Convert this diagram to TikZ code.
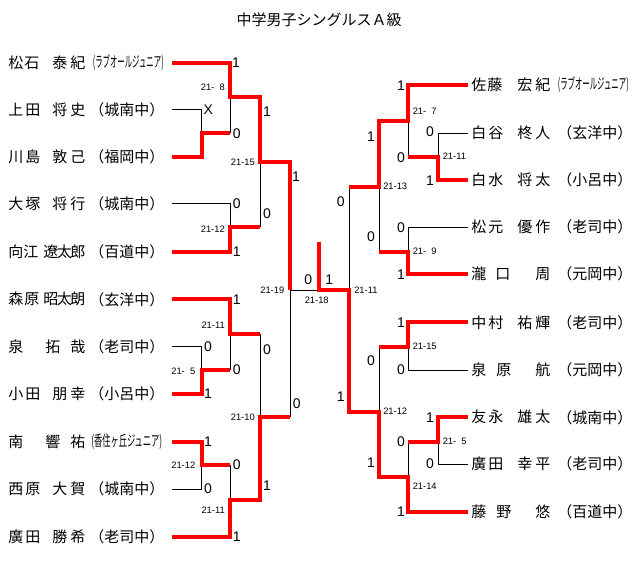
\documentclass[tikz,border=0pt]{standalone}
\usepackage{fontspec}
\usepackage{graphicx}
\setmainfont{Liberation Sans}
\newfontfamily\jp{Noto Sans CJK JP}
\newdimen\pxu \pxu=0.75pt
\tikzset{
  redln/.style={draw=red, line width=3pt, line join=miter},
  blkln/.style={draw=black, line width=0.75pt},
  pname/.style={anchor=west, inner sep=0pt, font=\jp\fontsize{11.25pt}{13pt}\selectfont},
  paff/.style={anchor=west, inner sep=0pt, font=\jp\fontsize{11.25pt}{13pt}\selectfont},
  resl/.style={inner sep=0pt, font=\fontsize{10.5pt}{12pt}\selectfont},
  scl/.style={inner sep=0pt, font=\fontsize{7pt}{8pt}\selectfont},
}
\newcommand\LN[1]{\hbox to 77\pxu{#1}}
\newcommand\RN[1]{\hbox to 79\pxu{#1}}
\newcommand\SM[1]{\resizebox{71\pxu}{\height}{#1}}
\newcommand\tk{\hskip-1.5\pxu}
\begin{document}
\begin{tikzpicture}[x=0.75pt,y=-0.75pt]
\useasboundingbox (0,0) rectangle (640,585);
\fill[white] (0,0) rectangle (640,585);
\node[pname] (title) at (319,20) [anchor=center] {中学男子シングルスＡ級};
% ---- left names
\node[pname] (n0) at (8,62.7) {\LN{松\hskip1\pxu 石\hfill 泰\hskip3\pxu 紀}};
\node[pname] (n1) at (8,110) {\LN{上\hskip2\pxu 田\hfill 将\hskip3\pxu 史}};
\node[pname] (n2) at (8,156.7) {\LN{川\hskip2\pxu 島\hfill 敦\hskip3\pxu 己}};
\node[pname] (n3) at (8,204) {\LN{大\hskip2\pxu 塚\hfill 将\hskip3\pxu 行}};
\node[pname] (n4) at (8,251.7) {\LN{向江\hfill 遼\tk 太\tk 郎}};
\node[pname] (n5) at (8,299.3) {\LN{森\hskip1\pxu 原\hfill 昭\tk 太\tk 朗}};
\node[pname] (n6) at (8,346.7) {\LN{泉\hfill 拓\hskip10\pxu 哉}};
\node[pname] (n7) at (8,393.7) {\LN{小\hskip2\pxu 田\hfill 朋\hskip3\pxu 幸}};
\node[pname] (n8) at (8,441.7) {\LN{南\hfill 響\hskip10\pxu 祐}};
\node[pname] (n9) at (8,489) {\LN{西\hskip2\pxu 原\hfill 大\hskip3\pxu 賀}};
\node[pname] (n10) at (8,536.7) {\LN{廣\hskip2\pxu 田\hfill 勝\hskip3\pxu 希}};
% ---- left affiliations
\node[paff] (a0) at (92.5,62.7) {\SM{(ラブオールジュニア)}};
\node[paff] (a1) at (89,110) {（城南中）};
\node[paff] (a2) at (89,156.7) {（福岡中）};
\node[paff] (a3) at (89,204) {（城南中）};
\node[paff] (a4) at (89,251.7) {（百道中）};
\node[paff] (a5) at (89,299.3) {（玄洋中）};
\node[paff] (a6) at (89,346.7) {（老司中）};
\node[paff] (a7) at (89,393.7) {（小呂中）};
\node[paff] (a8) at (91,441.7) {\SM{(香住ヶ丘ジュニア)}};
\node[paff] (a9) at (89,489) {（城南中）};
\node[paff] (a10) at (89,536.7) {（老司中）};
% ---- right names
\node[pname] (m0) at (471,85) {\RN{佐\hskip1\pxu 藤\hfill 宏\hskip3\pxu 紀}};
\node[pname] (m1) at (471,133.3) {\RN{白\hskip2\pxu 谷\hfill 柊\hskip3\pxu 人}};
\node[pname] (m2) at (471,180) {\RN{白\hskip2\pxu 水\hfill 将\hskip3\pxu 太}};
\node[pname] (m3) at (471,227.3) {\RN{松\hskip2\pxu 元\hfill 優\hskip3\pxu 作}};
\node[pname] (m4) at (471,274) {\RN{瀧\hskip9\pxu 口\hfill 周}};
\node[pname] (m5) at (471,322.3) {\RN{中\hskip2\pxu 村\hfill 祐\hskip3\pxu 輝}};
\node[pname] (m6) at (471,370) {\RN{泉\hskip10\pxu 原\hfill 航}};
\node[pname] (m7) at (471,417.3) {\RN{友\hskip2\pxu 永\hfill 雄\hskip3\pxu 太}};
\node[pname] (m8) at (471,464) {\RN{廣\hskip2\pxu 田\hfill 幸\hskip3\pxu 平}};
\node[pname] (m9) at (471,511.7) {\RN{藤\hskip10\pxu 野\hfill 悠}};
% ---- right affiliations
\node[paff] (b0) at (557.5,85) {\SM{(ラブオールジュニア)}};
\node[paff] (b1) at (557,133.3) {（玄洋中）};
\node[paff] (b2) at (557,180) {（小呂中）};
\node[paff] (b3) at (557,227.3) {（老司中）};
\node[paff] (b4) at (557,274) {（元岡中）};
\node[paff] (b5) at (557,322.3) {（老司中）};
\node[paff] (b6) at (557,370) {（元岡中）};
\node[paff] (b7) at (557,417.3) {（城南中）};
\node[paff] (b8) at (557,464) {（老司中）};
\node[paff] (b9) at (557,511.7) {（百道中）};
% ---- coordinates
\coordinate (p0) at (172,62.7);
\coordinate (p1) at (172,110);
\coordinate (p2) at (172,156.7);
\coordinate (p3) at (172,204);
\coordinate (p4) at (172,251.7);
\coordinate (p5) at (172,299.3);
\coordinate (p6) at (172,346.7);
\coordinate (p7) at (172,393.7);
\coordinate (p8) at (172,441.7);
\coordinate (p9) at (172,489);
\coordinate (p10) at (172,536.7);
\coordinate (jA) at (201.7,133.3);
\coordinate (jB) at (230,96.7);
\coordinate (jC) at (260,161.7);
\coordinate (jD) at (230,227.3);
\coordinate (jE) at (201.7,370);
\coordinate (jF) at (230,334);
\coordinate (jG) at (260,416.7);
\coordinate (jH) at (201.7,465);
\coordinate (jI) at (230,500);
\coordinate (jL) at (290,290);
\coordinate (fin) at (319.3,290);
\coordinate (top) at (319.3,241.7);
\coordinate (jR) at (349.3,290);
\coordinate (q0) at (468.3,85);
\coordinate (q1) at (468.3,133.3);
\coordinate (q2) at (468.3,180);
\coordinate (q3) at (468.3,227.3);
\coordinate (q4) at (468.3,274);
\coordinate (q5) at (468.3,322.3);
\coordinate (q6) at (468.3,370);
\coordinate (q7) at (468.3,417.3);
\coordinate (q8) at (468.3,464);
\coordinate (q9) at (468.3,511.7);
\coordinate (kA) at (438.3,156.7);
\coordinate (kB) at (408.3,121);
\coordinate (kC) at (408.3,251.7);
\coordinate (kD) at (379.3,186.7);
\coordinate (kE) at (408.3,346.7);
\coordinate (kF) at (438.3,441.7);
\coordinate (kG) at (408.3,476.7);
\coordinate (kH) at (379.3,411.7);
% ---- black lines
\draw[blkln] (p1) -| (jA);
\draw[blkln] (jB) -- (jA -| jB);
\draw[blkln] (p3) -| (jD);
\draw[blkln] (jC) -- (jD -| jC);
\draw[blkln] (p6) -| (jE);
\draw[blkln] (jF) -- (jE -| jF);
\draw[blkln] (p9) -| (jH);
\draw[blkln] (jH -| jI) -- (jI);
\draw[blkln] (jF -| jG) -- (jG);
\draw[blkln] (jL) -- (jG -| jL);
\draw[blkln] (jL) -- (fin);
\draw[blkln] (kD -| jR) -- (jR);
\draw[blkln] (q1) -| (kA);
\draw[blkln] (kB) -- (kA -| kB);
\draw[blkln] (q3) -| (kC);
\draw[blkln] (kD) -- (kC -| kD);
\draw[blkln] (q6) -| (kE);
\draw[blkln] (q8) -| (kF);
\draw[blkln] (kF -| kG) -- (kG);
\draw[blkln] (kE -| kH) -- (kH);
% ---- red lines
\draw[redln] (p0) -| (jB) -- (jB -| jC) -- (jC) -- (jC -| jL) -- (jL);
\draw[redln] (p2) -| (jA) -- (jA -| jB);
\draw[redln] (p4) -| (jD) -- (jD -| jC);
\draw[redln] (p7) -| (jE) -- (jE -| jF);
\draw[redln] (p5) -| (jF) -- (jF -| jG);
\draw[redln] (p8) -| (jH) -- (jH -| jI);
\draw[redln] (p10) -| (jI) -- (jI -| jG) -- (jG) -- (jG -| jL);
\draw[redln] (top) -- (fin) -- (jR) -- (kH -| jR) -- (kH) -- (kG -| kH) -- (kG) |- (q9);
\draw[redln] (q0) -| (kB) -- (kB -| kD) -- (kD) -- (kD -| jR);
\draw[redln] (q2) -| (kA) -- (kA -| kB);
\draw[redln] (q4) -| (kC) -- (kC -| kD);
\draw[redln] (q5) -| (kE) -- (kE -| kH);
\draw[redln] (q7) -| (kF) -- (kF -| kG);
% ---- results left
\node[resl] (l1) at (236,62.7) {1};
\node[resl] (l2) at (208.3,110) {X};
\node[resl] (l3) at (236.7,133.3) {0};
\node[resl] (l4) at (267,112) {1};
\node[resl] (l5) at (236.7,204) {0};
\node[resl] (l6) at (236.7,251.7) {1};
\node[resl] (l7) at (267,213.3) {0};
\node[resl] (l8) at (296,176.7) {1};
\node[resl] (l9) at (236.7,299.3) {1};
\node[resl] (l10) at (208,346.7) {0};
\node[resl] (l11) at (236.7,370) {0};
\node[resl] (l12) at (208,394) {1};
\node[resl] (l13) at (267,350) {0};
\node[resl] (l14) at (208,441.7) {1};
\node[resl] (l15) at (236.7,465) {0};
\node[resl] (l16) at (208,489) {0};
\node[resl] (l17) at (236.7,536.7) {1};
\node[resl] (l18) at (267,486) {1};
\node[resl] (l19) at (296.7,403.3) {0};
\node[resl] (f1) at (308.3,279.3) {0};
\node[resl] (f2) at (329.3,279.3) {1};
% ---- results right
\node[resl] (r1) at (401,86) {1};
\node[resl] (r2) at (430,131.7) {0};
\node[resl] (r3) at (371,136.7) {1};
\node[resl] (r4) at (401,157.3) {0};
\node[resl] (r5) at (430,180.7) {1};
\node[resl] (r6) at (340.7,201.7) {0};
\node[resl] (r7) at (401,227.3) {0};
\node[resl] (r8) at (371,236.7) {0};
\node[resl] (r9) at (401,274.7) {1};
\node[resl] (r10) at (401,322.3) {1};
\node[resl] (r11) at (371,361) {0};
\node[resl] (r12) at (401,370) {0};
\node[resl] (r13) at (340.7,396.7) {1};
\node[resl] (r14) at (430,417.7) {1};
\node[resl] (r15) at (401,441.7) {0};
\node[resl] (r16) at (371,462.3) {1};
\node[resl] (r17) at (430,464) {0};
\node[resl] (r18) at (401,511.7) {1};
% ---- scores
\node[scl,anchor=east] (s1) at (225,87.7) {21-\phantom{1}8};
\node[scl,anchor=east] (s2) at (255,162.7) {21-15};
\node[scl,anchor=east] (s3) at (225,229) {21-12};
\node[scl,anchor=east] (s4) at (225,325) {21-11};
\node[scl,anchor=east] (s5) at (195.5,371) {21-\phantom{1}5};
\node[scl,anchor=east] (s6) at (195.5,465.7) {21-12};
\node[scl,anchor=east] (s7) at (225,510) {21-11};
\node[scl,anchor=east] (s8) at (255,417.7) {21-10};
\node[scl,anchor=east] (s9) at (284.5,290) {21-19};
\node[scl] (s10) at (316.7,300.7) {21-18};
\node[scl,anchor=west] (s11) at (354,290) {21-11};
\node[scl,anchor=west] (t1) at (412.5,111.7) {21-\phantom{1}7};
\node[scl,anchor=west] (t2) at (442.5,156.7) {21-11};
\node[scl,anchor=west] (t3) at (383,186.7) {21-13};
\node[scl,anchor=west] (t4) at (412.5,251.7) {21-\phantom{1}9};
\node[scl,anchor=west] (t5) at (412.5,346.7) {21-15};
\node[scl,anchor=west] (t6) at (383,411.7) {21-12};
\node[scl,anchor=west] (t7) at (442.5,441.7) {21-\phantom{1}5};
\node[scl,anchor=west] (t8) at (412.5,486.7) {21-14};
\end{tikzpicture}
\end{document}
